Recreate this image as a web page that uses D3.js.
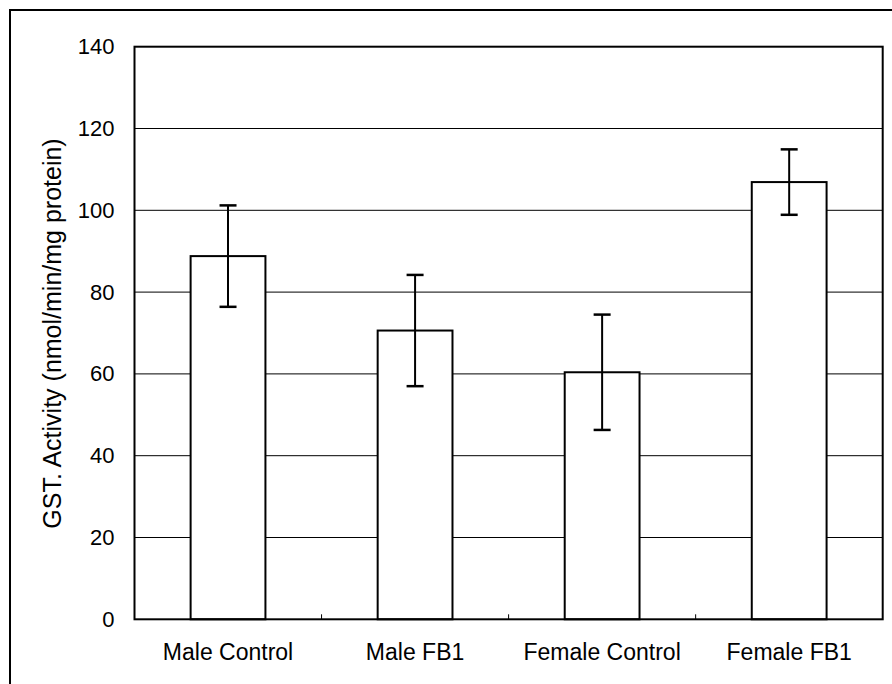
<!DOCTYPE html>
<html>
<head>
<meta charset="utf-8">
<script src="https://cdn.jsdelivr.net/npm/d3@7"></script>
<style>
  html, body { margin: 0; padding: 0; background: #fff; }
  svg { display: block; }
  text { font-family: "Liberation Sans", Arial, sans-serif; fill: #000; }
</style>
</head>
<body>
<svg id="chart" width="892" height="684"></svg>
<script>
const categories = ["Male Control", "Male FB1", "Female Control", "Female FB1"];
const means = [88.8, 70.6, 60.4, 106.9];
const errors = [12.4, 13.6, 14.1, 8.0];
const yTicks = [0, 20, 40, 60, 80, 100, 120, 140];
const yLabel = "GST. Activity (nmol/min/mg protein)";

const svg = d3.select("#chart");
const W = 892, H = 684;
const plot = { left: 134.5, right: 882.7, top: 46.7, bottom: 619.3 };

// outer frame
svg.append("rect").attr("x", 10).attr("y", 10).attr("width", W).attr("height", H)
  .attr("fill", "none").attr("stroke", "#000").attr("stroke-width", 2);

const x = d3.scaleBand().domain(categories).range([plot.left, plot.right])
  .paddingInner(0.6).paddingOuter(0.3);
const y = d3.scaleLinear().domain([0, 140]).range([plot.bottom, plot.top]);

// gridlines
svg.append("g").selectAll("line").data(yTicks.filter(d => d > 0 && d < 140)).join("line")
  .attr("x1", plot.left).attr("x2", plot.right)
  .attr("y1", d => y(d)).attr("y2", d => y(d))
  .attr("stroke", "#000").attr("stroke-width", 1);

// y axis
const yAxis = d3.axisLeft(y).tickValues(yTicks).tickSize(0).tickPadding(20);
const gy = svg.append("g").attr("transform", `translate(${plot.left},0)`).call(yAxis);
gy.select(".domain").remove();
gy.selectAll("text").style("font-size", "22px").attr("font-family", "Liberation Sans, Arial, sans-serif");

// x axis
const xAxis = d3.axisBottom(x).tickSize(0).tickPadding(24);
const gx = svg.append("g").attr("transform", `translate(0,${plot.bottom})`).call(xAxis);
gx.select(".domain").remove();
gx.selectAll("text").style("font-size", "23px").attr("font-family", "Liberation Sans, Arial, sans-serif");

// category boundary ticks (inside, pointing up)
const step = x.step();
const boundaries = categories.slice(1).map(c => x(c) - (step - x.bandwidth()) / 2);
svg.append("g").selectAll("line").data(boundaries).join("line")
  .attr("x1", d => d).attr("x2", d => d)
  .attr("y1", plot.bottom).attr("y2", plot.bottom - 5)
  .attr("stroke", "#000").attr("stroke-width", 1);

// bars
svg.append("g").selectAll("rect").data(categories).join("rect")
  .attr("x", d => x(d)).attr("width", x.bandwidth())
  .attr("y", (d, i) => y(means[i]))
  .attr("height", (d, i) => y(0) - y(means[i]))
  .attr("fill", "#fff").attr("stroke", "#000").attr("stroke-width", 2);

// error bars
const eg = svg.append("g");
categories.forEach((c, i) => {
  const cx = x(c) + x.bandwidth() / 2;
  const hi = y(means[i] + errors[i]), lo = y(means[i] - errors[i]);
  eg.append("line").attr("x1", cx).attr("x2", cx).attr("y1", hi).attr("y2", lo)
    .attr("stroke", "#000").attr("stroke-width", 2);
  [hi, lo].forEach(yy => {
    eg.append("line").attr("x1", cx - 8.5).attr("x2", cx + 8.5).attr("y1", yy).attr("y2", yy)
      .attr("stroke", "#000").attr("stroke-width", 2.5);
  });
});

// plot frame
svg.append("rect").attr("x", plot.left).attr("y", plot.top)
  .attr("width", plot.right - plot.left).attr("height", plot.bottom - plot.top)
  .attr("fill", "none").attr("stroke", "#000").attr("stroke-width", 2);

// y label
svg.append("text")
  .attr("transform", `translate(61,333.5) rotate(-90)`)
  .attr("text-anchor", "middle")
  .style("font-size", "25px")
  .text(yLabel);
</script>
</body>
</html>
